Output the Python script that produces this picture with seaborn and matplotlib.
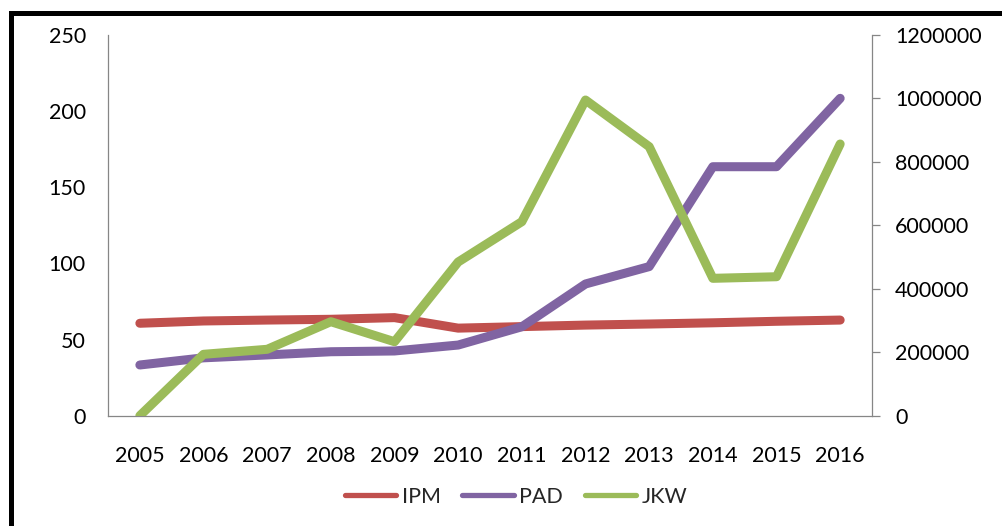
import matplotlib.pyplot as plt
import seaborn as sns
import pandas as pd
from matplotlib.patches import Rectangle

tahun = [2005, 2006, 2007, 2008, 2009, 2010, 2011, 2012, 2013, 2014, 2015, 2016]
ipm = [60.7, 62.2, 62.8, 63.3, 64.4, 57.5, 58.5, 59.5, 60.2, 61.0, 62.0, 62.8]
pad = [33.3, 38.0, 39.9, 42.0, 42.5, 46.4, 58.4, 86.5, 97.9, 163.5, 163.5, 208.4]
jkw = [0, 193500, 209300, 296300, 233200, 484500, 611500, 995000, 848000, 433000, 438000, 856400]

df = pd.DataFrame({"tahun": tahun, "IPM": ipm, "PAD": pad, "JKW": jkw})

sns.set_style("white")
plt.rcParams["font.family"] = ["Lato", "DejaVu Sans"]

merah = "#C0504D"
ungu = "#8064A2"
hijau = "#9BBB59"
abu = "#868686"
lebar = 6.5

fig = plt.figure(figsize=(10.03, 5.26), dpi=100)
ax = fig.add_axes([0.1077, 0.2097, 0.7617, 0.7238])
ax2 = ax.twinx()

sns.lineplot(data=df, x="tahun", y="IPM", ax=ax, color=merah, linewidth=lebar,
             solid_capstyle="round", label="IPM", legend=False)
sns.lineplot(data=df, x="tahun", y="PAD", ax=ax, color=ungu, linewidth=lebar,
             solid_capstyle="round", label="PAD", legend=False)
sns.lineplot(data=df, x="tahun", y="JKW", ax=ax2, color=hijau, linewidth=lebar,
             solid_capstyle="round", label="JKW", legend=False)

ax.set_xlim(2004.5, 2016.5)
ax.set_ylim(0, 250)
ax2.set_ylim(0, 1200000)
ax.set_xticks(tahun)
ax.set_xticklabels([str(t) for t in tahun])
ax.set_yticks(range(0, 251, 50))
ax2.set_yticks(range(0, 1200001, 200000))
ax2.set_yticklabels([str(v) for v in range(0, 1200001, 200000)])
ax.set_xlabel("")
ax.set_ylabel("")
ax2.set_ylabel("")

for a in (ax, ax2):
    for s in a.spines.values():
        s.set_visible(False)
ax.spines["left"].set_visible(True)
ax.spines["bottom"].set_visible(True)
ax2.spines["right"].set_visible(True)
for s in (ax.spines["left"], ax.spines["bottom"], ax2.spines["right"]):
    s.set_color(abu)
    s.set_linewidth(0.9)

ax.tick_params(axis="y", length=0, pad=16, labelsize=15.5, colors="black")
ax.tick_params(axis="x", length=0, pad=22, labelsize=15.5, colors="black")
ax2.tick_params(axis="y", length=5.5, width=0.9, color=abu, pad=11,
                labelsize=15.5, labelcolor="black", direction="out")

h1, l1 = ax.get_legend_handles_labels()
h2, l2 = ax2.get_legend_handles_labels()
leg = fig.legend(h1 + h2, l1 + l2, loc="center", ncol=3,
                 bbox_to_anchor=(516 / 1003, 1 - 497 / 526), frameon=False,
                 fontsize=15.5, handlelength=2.4, handletextpad=0.25,
                 columnspacing=1.0)
for line in leg.get_lines():
    line.set_linewidth(3.8)
    line.set_solid_capstyle("round")

# bingkai hitam di sekeliling gambar
fig.add_artist(Rectangle((10.5 / 1003, -0.5), 2.0, 1.5 - 12.5 / 526,
                         transform=fig.transFigure, fill=False,
                         edgecolor="black", linewidth=3.6, clip_on=False))

fig.savefig("out.png", dpi=100)
